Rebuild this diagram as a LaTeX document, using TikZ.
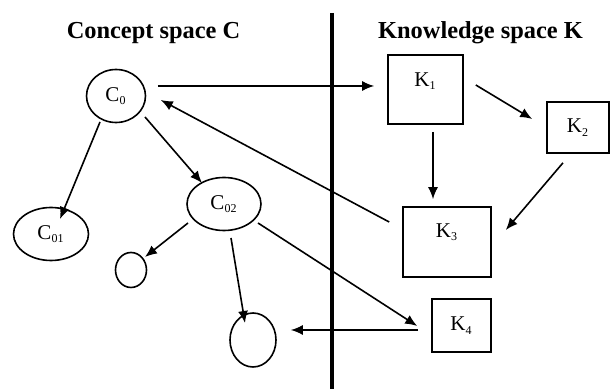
\documentclass[tikz,border=0pt]{standalone}
\usepackage{fontspec}
\setmainfont{Liberation Serif}
\usetikzlibrary{shapes.geometric,arrows.meta,positioning}

\newcommand{\nsub}[1]{\textsubscript{\fontsize{6}{6}\selectfont #1}}

\begin{document}
\begin{tikzpicture}[x=0.5pt,y=-0.5pt,
    concept/.style={draw, ellipse, inner sep=0, line width=0.8pt},
    know/.style={draw, rectangle, inner sep=0, line width=0.8pt},
    lbl/.style={font=\fontsize{10.5}{12}\selectfont, inner sep=0},
    arr/.style={-{Latex[length=6pt,width=5pt]}, line width=0.8pt},
    title/.style={font=\fontsize{12.2}{14}\selectfont\bfseries}]

\useasboundingbox (0,0) rectangle (611,389);

% Headings
\node[title] (tc) at (153.5,33) {Concept space C};
\node[title] (tk) at (480.5,33) {Knowledge space K};

% Dividing line
\coordinate (divtop) at (332,13);
\coordinate (divbot) at (332,389);
\draw[line width=1.6pt] (divtop) -- (divbot);

% Concept space
\node[concept, minimum width=29.5pt, minimum height=26.5pt,
    lbl] (C0) at (116,96) {C\nsub{0}};
\node[concept, minimum width=37.5pt, minimum height=26.5pt,
    lbl] (C01) at (51,234) {C\nsub{01}};
\node[concept, minimum width=37pt, minimum height=26.5pt,
    lbl] (C02) at (224,204) {C\nsub{02}};
\node[concept, minimum width=15.5pt, minimum height=17.5pt] (Ca) at (131,270) {};
\node[concept, minimum width=23pt, minimum height=27pt] (Cb) at (253,340) {};

% Knowledge space
\node[know, minimum width=37.5pt, minimum height=34.5pt] (K1) at (425.5,89.5) {};
\node[lbl, below=9pt of K1.north] (K1lab) {K\nsub{1}};
\node[know, lbl, minimum width=31pt, minimum height=25.5pt] (K2) at (578,127.5) {K\nsub{2}};
\node[know, minimum width=44pt, minimum height=35pt] (K3) at (447,242) {};
\node[lbl, below=8.5pt of K3.north] (K3lab) {K\nsub{3}};
\node[know, lbl, minimum width=29.5pt, minimum height=26.5pt] (K4) at (461.5,325.5) {K\nsub{4}};

% Arrows
\draw[arr] ([xshift=5.75pt,yshift=5pt]C0.east) -- ([xshift=-6.5pt,yshift=1.75pt]K1.west);
\draw[arr] ([xshift=-8pt,yshift=-13pt]C0.center) -- ([xshift=4.5pt,yshift=7.5pt]C01.center);
\draw[arr] ([xshift=14.5pt,yshift=-10.5pt]C0.center) -- ([xshift=-11pt,yshift=10.5pt]C02.center);
\draw[arr] ([xshift=6pt,yshift=2.25pt]K1.east) -- ([xshift=-7pt,yshift=4.25pt]K2.west);
\draw[arr] ([xshift=3.75pt,yshift=-3.5pt]K1.south) -- ([xshift=-7pt,yshift=3.5pt]K3.north);
\draw[arr] ([xshift=-7.5pt,yshift=-4.5pt]K2.south) -- ([xshift=7pt,yshift=6pt]K3.east);
\draw[arr] ([xshift=-6.5pt,yshift=10pt]K3.west) -- ([xshift=7.25pt,yshift=-2pt]C0.east);
\draw[arr] ([xshift=-18pt,yshift=-9.5pt]C02.center) -- ([xshift=7pt,yshift=6.5pt]Ca.center);
\draw[arr] ([xshift=3.5pt,yshift=-17pt]C02.center) -- ([xshift=-4pt,yshift=8.5pt]Cb.center);
\draw[arr] ([xshift=17pt,yshift=-9.5pt]C02.center) -- ([xshift=-7pt,yshift=-0.25pt]K4.west);
\draw[arr] ([xshift=-6.5pt,yshift=-2.25pt]K4.west) -- ([xshift=7pt,yshift=5pt]Cb.east);

\end{tikzpicture}
\end{document}
